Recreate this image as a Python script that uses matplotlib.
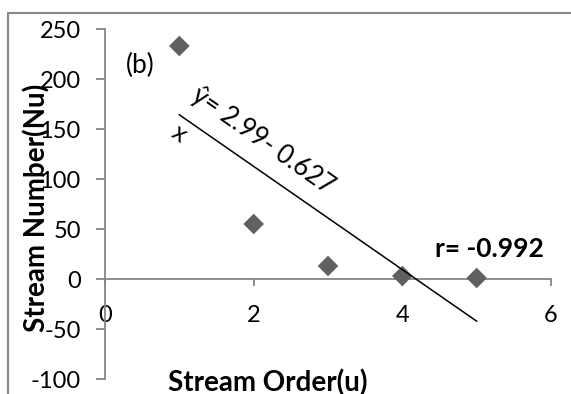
import numpy as np
import matplotlib
matplotlib.use("Agg")
import matplotlib.pyplot as plt
from matplotlib.patches import Rectangle

# Data
stream_order = [1, 2, 3, 4, 5]
stream_number = [233, 55, 13, 3, 1]
x_ticks = [0, 2, 4, 6]
y_ticks = [-100, -50, 0, 50, 100, 150, 200, 250]
x_label = "Stream Order(u)"
y_label = "Stream Number(Nu)"
panel_label = "(b)"
eq_text = "ŷ= 2.99- 0.627"
eq_x = "x"
r_text = "r= -0.992"

plt.rcParams['font.family'] = ['Lato', 'DejaVu Sans']
plt.rcParams['axes.unicode_minus'] = False

W, H = 571, 394
fig = plt.figure(figsize=(W / 100, H / 100), dpi=100)
ax = fig.add_axes([105 / W, 15 / H, 446 / W, 350 / H])

gray = '#868686'
ax.scatter(stream_order, stream_number, marker='D', s=110, color='#606060',
           edgecolors='none', zorder=3)

# linear trend line
coef = np.polyfit(stream_order, stream_number, 1)
xs = np.array([min(stream_order), max(stream_order)])
ax.plot(xs, np.polyval(coef, xs), color='black', lw=1.1, zorder=4)

ax.set_xlim(0, 6)
ax.set_ylim(-100, 250)
ax.set_xticks(x_ticks)
ax.set_yticks(y_ticks)
ax.spines['bottom'].set_position(('data', 0))
for s in ['top', 'right']:
    ax.spines[s].set_visible(False)
for s in ['left', 'bottom']:
    ax.spines[s].set_color(gray)
    ax.spines[s].set_linewidth(1.3)
ax.tick_params(axis='x', direction='out', length=5, width=1.3, color=gray,
               labelsize=17, pad=14)
ax.tick_params(axis='y', direction='out', length=6.5, width=1.3, color=gray,
               labelsize=17, pad=11)

ax.set_xlabel(x_label, fontsize=20, fontweight='bold')
ax.xaxis.set_label_coords(0.3655, -0.012)
ax.xaxis.label.set_verticalalignment('center')
ax.set_ylabel(y_label, fontsize=20, fontweight='bold')
ax.yaxis.set_label_coords(-0.152, 0.49)
ax.yaxis.label.set_verticalalignment('center')

ax.text(0.47, 214, panel_label, fontsize=19, ha='center', va='center')
ax.text(2.12, 138, eq_text, fontsize=18.5, ha='center', va='center', rotation=-35)
ax.text(1.0, 146, eq_x, fontsize=18, ha='center', va='center', rotation=-35)
ax.text(5.17, 30, r_text, fontsize=19, fontweight='bold', ha='center', va='center')

# outer chart border (cut off at right and bottom)
fig.patches.append(Rectangle((8 / W, -0.1), 1.2, 1.1 - 13.5 / H,
                             transform=fig.transFigure, fill=False,
                             edgecolor='#898989', lw=1.5))

fig.savefig('out.png', dpi=100)
